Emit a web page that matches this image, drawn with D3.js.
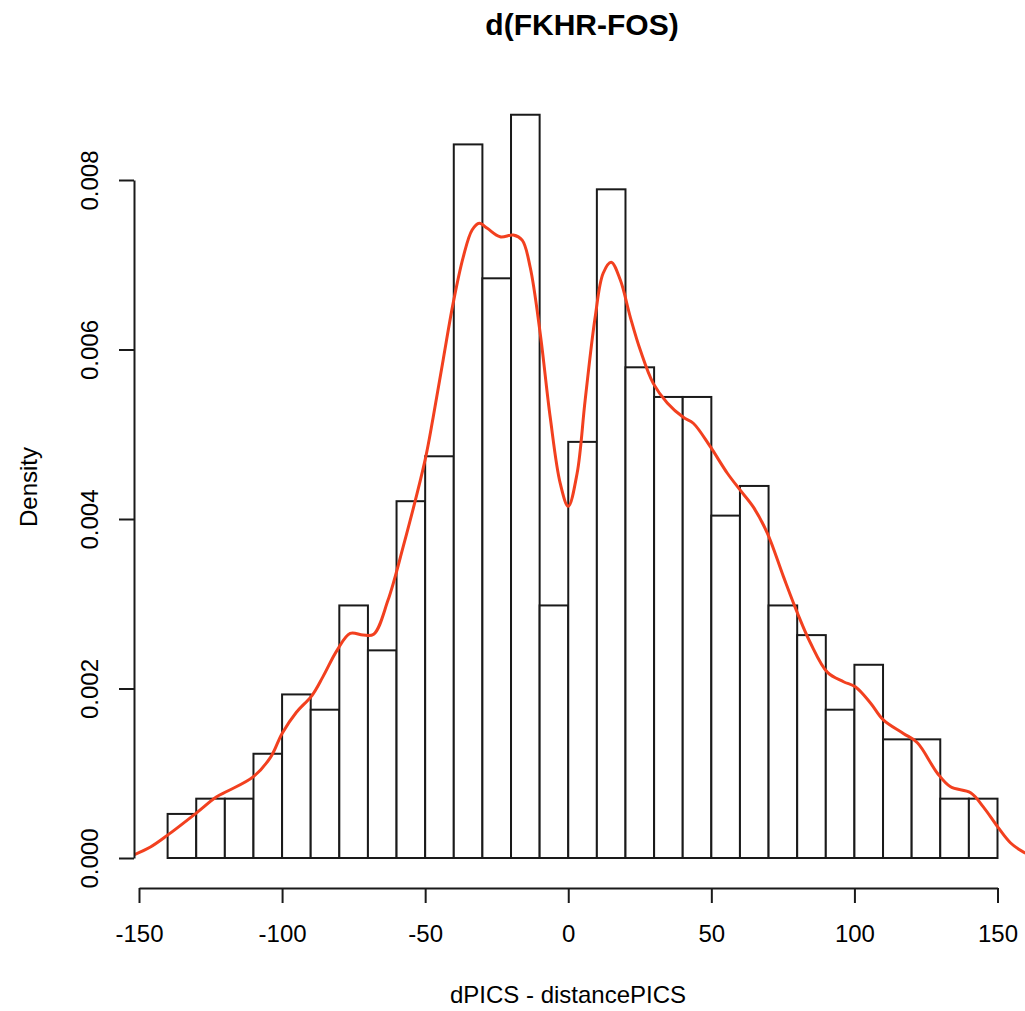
<!DOCTYPE html>
<html>
<head>
<meta charset="utf-8">
<script src="https://cdn.jsdelivr.net/npm/d3@7"></script>
<style>
  body { margin: 0; background: #fff; }
  text { font-family: "Liberation Sans", Arial, sans-serif; fill: #000; }
</style>
</head>
<body>
<div id="chart"></div>
<script>
const width = 1025;
const height = 1011;

// histogram bins (left edges, width 10) and densities
const binStarts = [-140, -130, -120, -110, -100, -90, -80, -70, -60, -50, -40, -30, -20, -10,
  0, 10, 20, 30, 40, 50, 60, 70, 80, 90, 100, 110, 120, 130, 140];
const binDensity = [0.00052, 0.0007, 0.0007, 0.00123, 0.00193, 0.00175, 0.00298, 0.00245, 0.00421, 0.00474,
  0.00842, 0.00684, 0.00877, 0.00298, 0.00491, 0.00789, 0.00579, 0.00544, 0.00544, 0.00404,
  0.00439, 0.00298, 0.00263, 0.00175, 0.00228, 0.0014, 0.0014, 0.0007, 0.0007];

// kernel density curve
const densX = [-153, -146, -140, -130, -123, -119, -110, -104, -100, -95, -89.5, -85.7, -80.8, -76.2, -71.7,
  -68, -63, -57.7, -50, -47.2, -43.7, -40.2, -36.7, -33.6, -31.1, -28.3, -23.8, -19.2, -16.1, -13.3,
  -9.8, -6.3, -2.8, 0, 3.1, 5.9, 9.4, 12.2, 15, 18.2, 21.7, 25.2, 29.7, 34.6, 40.2, 43.7, 49.7, 55.6,
  60.1, 64.7, 69.6, 75.2, 80.1, 84.6, 90.6, 96.2, 100.3, 105.6, 110.1, 117.1, 122, 129, 133.6, 140.6,
  145.1, 150, 154.5, 159.1, 163];
const densY = [0.00002, 0.00013, 0.00027, 0.00053, 0.00072, 0.00079, 0.00096, 0.00119, 0.00147, 0.00172,
  0.00192, 0.00214, 0.00245, 0.00265, 0.00263, 0.00264, 0.00304, 0.00367, 0.0047, 0.0052, 0.00588, 0.00655,
  0.00709, 0.00741, 0.00749, 0.00743, 0.00733, 0.00735, 0.00729, 0.00697, 0.00619, 0.0052, 0.00442, 0.00415,
  0.00454, 0.0054, 0.00638, 0.0069, 0.00703, 0.00682, 0.00638, 0.00599, 0.0056, 0.00537, 0.0052, 0.00513,
  0.00485, 0.00454, 0.00434, 0.00414, 0.00383, 0.00332, 0.00289, 0.00254, 0.00219, 0.00208, 0.00202,
  0.00183, 0.00163, 0.00147, 0.00136, 0.001, 0.00084, 0.00077, 0.0006, 0.00037, 0.00018, 0.00007, 0.00002];

const xTicks = [-150, -100, -50, 0, 50, 100, 150];
const yTicks = [0, 0.002, 0.004, 0.006, 0.008];

const x = d3.scaleLinear().domain([-150, 150]).range([139, 997.5]);
const y = d3.scaleLinear().domain([0, 0.008]).range([858, 180]);

const svg = d3.select("#chart")
  .append("svg")
    .attr("width", width)
    .attr("height", height);

// clip to the plot region
svg.append("clipPath")
    .attr("id", "plotclip")
  .append("rect")
    .attr("x", 134)
    .attr("y", 85)
    .attr("width", 896)
    .attr("height", 803);

// bars
svg.append("g")
  .selectAll("rect")
  .data(binStarts)
  .enter()
  .append("rect")
    .attr("x", d => x(d))
    .attr("y", (d, i) => y(binDensity[i]))
    .attr("width", d => x(d + 10) - x(d))
    .attr("height", (d, i) => y(0) - y(binDensity[i]))
    .attr("fill", "#fff")
    .attr("stroke", "#1a1a1a")
    .style("stroke-width", "2px");

// density curve
const line = d3.line()
  .x(d => x(d[0]))
  .y(d => y(d[1]))
  .curve(d3.curveCatmullRom);

svg.append("path")
  .datum(densX.map((v, i) => [v, densY[i]]))
  .attr("clip-path", "url(#plotclip)")
  .attr("d", line)
  .attr("fill", "none")
  .attr("stroke", "#f2401f")
  .style("stroke-width", "3px");

// x axis
const gx = svg.append("g")
  .attr("transform", "translate(0,888)")
  .call(d3.axisBottom(x).tickValues(xTicks).tickSize(15).tickSizeOuter(0).tickFormat(d3.format("d")));
gx.selectAll("line, path").attr("stroke", "#1a1a1a").style("stroke-width", "2px");
gx.selectAll("text")
  .attr("y", 54)
  .attr("dy", 0)
  .style("font-size", "24px")
  .style("font-family", "'Liberation Sans', Arial, sans-serif")
  .text(d => d < 0 ? "-" + Math.abs(d) : d);

// y axis
const gy = svg.append("g")
  .attr("transform", "translate(134,0)")
  .call(d3.axisLeft(y).tickValues(yTicks).tickSize(15).tickSizeOuter(0).tickFormat(d3.format(".3f")));
gy.selectAll("line, path").attr("stroke", "#1a1a1a").style("stroke-width", "2px");
gy.selectAll("text")
  .attr("transform", "rotate(-90)")
  .attr("x", 0)
  .attr("y", -36)
  .attr("dy", 0)
  .attr("text-anchor", "middle")
  .style("font-size", "24px")
  .style("font-family", "'Liberation Sans', Arial, sans-serif");

// title and axis labels
svg.append("text")
  .attr("x", 582)
  .attr("y", 35)
  .attr("text-anchor", "middle")
  .style("font-size", "30px")
  .style("font-weight", "bold")
  .text("d(FKHR-FOS)");

svg.append("text")
  .attr("x", 568)
  .attr("y", 1003)
  .attr("text-anchor", "middle")
  .style("font-size", "24px")
  .text("dPICS - distancePICS");

svg.append("text")
  .attr("transform", "translate(37,487) rotate(-90)")
  .attr("text-anchor", "middle")
  .style("font-size", "24px")
  .text("Density");
</script>
</body>
</html>
